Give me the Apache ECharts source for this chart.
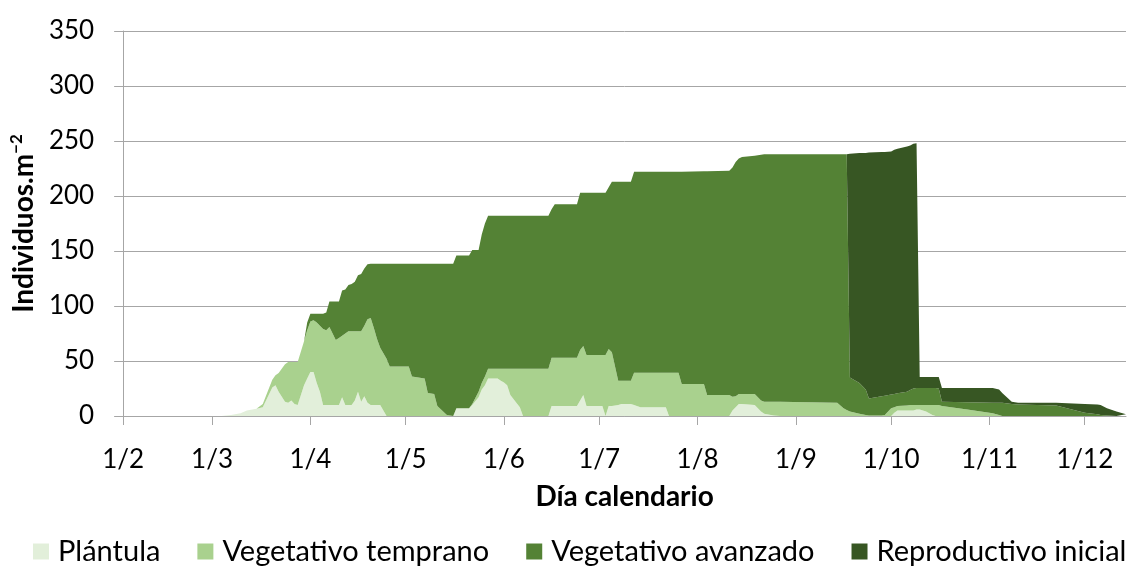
<!DOCTYPE html>
<html>
<head>
<meta charset="utf-8">
<script src="https://cdn.jsdelivr.net/npm/echarts@6.0.0/dist/echarts.min.js"></script>
<style>
  html, body { margin: 0; padding: 0; background: #fff; }
  #chart { width: 1132px; height: 566px; }
</style>
</head>
<body>
<div id="chart"></div>
<script>
// fechas de muestreo (eje temporal)
const dates = [
  '2015-02-01', '2015-03-04', '2015-03-07', '2015-03-10', '2015-03-12', '2015-03-15', '2015-03-17', '2015-03-20',
  '2015-03-21', '2015-03-22', '2015-03-24', '2015-03-25', '2015-03-26', '2015-03-27', '2015-03-28', '2015-03-30',
  '2015-03-31', '2015-04-01', '2015-04-02', '2015-04-03', '2015-04-04', '2015-04-05', '2015-04-06', '2015-04-07',
  '2015-04-08', '2015-04-09', '2015-04-10', '2015-04-11', '2015-04-12', '2015-04-13', '2015-04-14', '2015-04-15',
  '2015-04-16', '2015-04-17', '2015-04-18', '2015-04-19', '2015-04-20', '2015-04-21', '2015-04-22', '2015-04-23',
  '2015-04-24', '2015-04-25', '2015-04-26', '2015-05-02', '2015-05-03', '2015-05-07', '2015-05-08', '2015-05-10',
  '2015-05-11', '2015-05-14', '2015-05-16', '2015-05-17', '2015-05-21', '2015-05-22', '2015-05-24', '2015-05-25',
  '2015-05-26', '2015-05-27', '2015-05-30', '2015-05-31', '2015-06-01', '2015-06-02', '2015-06-03', '2015-06-06',
  '2015-06-07', '2015-06-15', '2015-06-16', '2015-06-17', '2015-06-24', '2015-06-25', '2015-06-26', '2015-06-27',
  '2015-07-02', '2015-07-03', '2015-07-04', '2015-07-05', '2015-07-07', '2015-07-08', '2015-07-11', '2015-07-12',
  '2015-07-14', '2015-07-22', '2015-07-23', '2015-07-26', '2015-07-27', '2015-08-03', '2015-08-04', '2015-08-11',
  '2015-08-12', '2015-08-13', '2015-08-14', '2015-08-15', '2015-08-19', '2015-08-20', '2015-08-21', '2015-08-22',
  '2015-08-25', '2015-08-27', '2015-09-14', '2015-09-16', '2015-09-17', '2015-09-18', '2015-09-21', '2015-09-23',
  '2015-09-24', '2015-09-28', '2015-09-29', '2015-10-01', '2015-10-02', '2015-10-03', '2015-10-06', '2015-10-07',
  '2015-10-08', '2015-10-09', '2015-10-10', '2015-10-12', '2015-10-14', '2015-10-15', '2015-10-16', '2015-10-17',
  '2015-10-25', '2015-11-02', '2015-11-04', '2015-11-05', '2015-11-08', '2015-11-10', '2015-11-22', '2015-12-01',
  '2015-12-05', '2015-12-06', '2015-12-08', '2015-12-11', '2015-12-14'
]

const plantula = [
  0, 0, 1, 2.5, 5, 6.5, 8, 26,
  28, 22, 13, 12, 14, 11, 10, 28,
  34, 40, 40, 30, 22, 10, 10, 10,
  10, 10, 10, 17, 10, 10, 10, 14,
  22, 13, 18, 12, 10, 10, 10, 10,
  5, 0, 0, 0, 0, 0, 0, 0,
  0, 0, 0, 7, 7, 10, 17, 24,
  28, 34, 34, 32, 30.5, 28, 19, 8,
  0, 0, 9, 9, 9, 14, 19, 9,
  9, 0, 9, 9, 10, 11, 11, 10,
  8, 8, 0, 0, 0, 0, 0, 0,
  5, 8, 11, 11, 10, 7, 4, 2,
  0.5, 0, 0, 0, 0, 0, 0, 0,
  0, 0, 0, 0, 3, 5, 5, 5,
  5, 6, 6, 4, 1, 0, 0, 0,
  0, 0, 0, 0, 0, 0, 0, 0,
  0, 0, 0, 0, 0
]

const vegTemprano = [
  0, 0, 0, 0, 0, 0, 3, 7,
  9, 17, 34, 37, 35, 38, 39, 40,
  44, 46, 47, 55, 60, 69, 68, 71,
  65, 59, 61, 56, 65, 67, 67, 63,
  55, 64, 64, 76, 79, 70, 60, 52,
  52, 52, 45, 45, 36, 34, 21, 20,
  9, 1, 0, 0, 0, 1, 5, 6,
  8, 9, 9, 11, 12.5, 15, 24, 35,
  43, 43, 44, 44, 44, 46, 44.6, 46.5,
  46.5, 55.5, 52, 49, 22, 21, 21, 29.4,
  31.4, 31.4, 39.4, 39.4, 29, 29, 19, 19,
  12.5, 10, 9, 9, 10, 10, 10, 11,
  12.5, 13, 12, 7, 5.5, 4, 2, 1,
  0.5, 0.5, 1, 7, 5, 4, 4.5, 5,
  5, 4, 4, 6, 9, 10, 10, 9,
  6, 2.5, 1, 0, 0, 0, 0, 0,
  0, 0, 0, 0, 0
]

const vegAvanzado = [
  0, 0, 0, 0, 0, 0, 0, 0,
  0, 0, 0, 0, 0, 0, 0, 0,
  7, 7, 6, 8, 11, 14, 16, 23,
  29, 35, 33, 41, 40, 42, 43, 45,
  51, 52, 52, 50, 49.5, 58.5, 68.5, 76.5,
  81.5, 86.5, 93.5, 93.5, 102.5, 104.5, 117.5, 118.5,
  129.5, 137.5, 138.5, 139, 139, 140, 129, 135,
  139, 139, 139, 139, 139, 139, 139, 139,
  139, 139, 135, 139.5, 139.5, 143, 139.4, 147.5,
  147.5, 147.5, 147, 155, 181, 181, 181, 182.6,
  182.6, 182.6, 182.6, 182.6, 193, 193.5, 203.5, 204,
  208.5, 213, 214, 215.5, 216.5, 220, 223.5, 225,
  225, 225, 226, 231, 232.5, 31, 28, 23,
  15.5, 17.5, 17.5, 12.5, 12, 11.6, 12.5, 13.6,
  15, 15.5, 15.5, 15.5, 15.5, 15.5, 15, 4,
  6.5, 9.5, 11, 12, 11, 10.5, 9.5, 3,
  1.5, 1, 0.5, 0, 0
]

const reproductivo = [
  0, 0, 0, 0, 0, 0, 0, 0,
  0, 0, 0, 0, 0, 0, 0, 0,
  0, 0, 0, 0, 0, 0, 0, 0,
  0, 0, 0, 0, 0, 0, 0, 0,
  0, 0, 0, 0, 0, 0, 0, 0,
  0, 0, 0, 0, 0, 0, 0, 0,
  0, 0, 0, 0, 0, 0, 0, 0,
  0, 0, 0, 0, 0, 0, 0, 0,
  0, 0, 0, 0, 0, 0, 0, 0,
  0, 0, 0, 0, 0, 0, 0, 0,
  0, 0, 0, 0, 0, 0, 0, 0,
  0, 0, 0, 0, 0, 0, 0, 0,
  0, 0, 0, 0, 0, 203.5, 209, 215,
  223.5, 222, 221.5, 221, 222, 222.4, 223, 222.4,
  222.5, 222.5, 10, 10, 10, 10, 10.5, 12.5,
  13, 13.5, 12, 9, 2, 1.5, 2.5, 8,
  9, 9, 6.5, 4, 1.5
]

// etiquetas del eje x (día/mes), una por mes
const monthLabels = ['1/1', '1/2', '1/3', '1/4', '1/5', '1/6', '1/7', '1/8', '1/9', '1/10', '1/11', '1/12']
const yTicks = [0, 50, 100, 150, 200, 250, 300, 350]

const stages = [
  { name: 'Plántula', values: plantula, color: '#e2efda' },
  { name: 'Vegetativo temprano', values: vegTemprano, color: '#a9d18e' },
  { name: 'Vegetativo avanzado', values: vegAvanzado, color: '#548235' },
  { name: 'Reproductivo inicial', values: reproductivo, color: '#375623' },
]

const FONT = 'Lato'
const chart = echarts.init(document.getElementById('chart'), null, { renderer: 'canvas' })

chart.setOption({
  animation: false,
  textStyle: { fontFamily: FONT },
  grid: { left: 121, right: 6, top: 31, bottom: 150 },
  legend: {
    left: 33,
    top: 537,
    padding: 0,
    icon: 'rect',
    itemWidth: 16,
    itemHeight: 16,
    itemGap: 37,
    textStyle: { fontFamily: FONT, fontSize: 29, color: '#000', padding: [0, 0, 0, 4] },
    data: stages.map(s => s.name),
  },
  xAxis: {
    type: 'time',
    min: '2015-02-01',
    max: '2015-12-14',
    splitNumber: 11,
    minInterval: 28 * 86400000,
    maxInterval: 31 * 86400000,
    name: 'Día calendario',
    nameLocation: 'middle',
    nameGap: 67,
    nameTextStyle: { fontFamily: FONT, fontSize: 28, fontWeight: 'bold', color: '#000' },
    axisLine: { lineStyle: { color: '#a6a6a6', width: 1 } },
    axisTick: { show: true, inside: false, length: 9, lineStyle: { color: '#a6a6a6' } },
    splitLine: { show: false },
    axisLabel: {
      margin: 31,
      fontSize: 26,
      color: '#000',
      fontFamily: FONT,
      formatter: (v) => monthLabels[new Date(v).getMonth()],
    },
  },
  yAxis: {
    type: 'value',
    min: yTicks[0],
    max: yTicks[yTicks.length - 1],
    interval: 50,
    name: '{b|Individuos.m}{s|−2}',
    nameLocation: 'middle',
    nameGap: 78,
    nameTextStyle: {
      rich: {
        b: { fontFamily: FONT, fontSize: 28, fontWeight: 'bold', color: '#000', lineHeight: 32 },
        s: { fontFamily: FONT, fontSize: 17, fontWeight: 'bold', color: '#000', verticalAlign: 'top', lineHeight: 32 },
      },
    },
    axisLine: { show: true, lineStyle: { color: '#a6a6a6', width: 1 } },
    axisTick: { show: true, inside: false, length: 9, lineStyle: { color: '#a6a6a6' } },
    splitLine: { lineStyle: { color: '#a6a6a6', width: 1 } },
    axisLabel: { margin: 29, fontSize: 26, color: '#000', fontFamily: FONT },
  },
  series: stages.map(s => ({
    name: s.name,
    type: 'line',
    stack: 'total',
    symbol: 'none',
    showSymbol: false,
    color: s.color,
    lineStyle: { width: 0, color: s.color },
    areaStyle: { color: s.color, opacity: 1 },
    data: dates.map((d, i) => [d, s.values[i]]),
  })),
})
</script>
</body>
</html>
